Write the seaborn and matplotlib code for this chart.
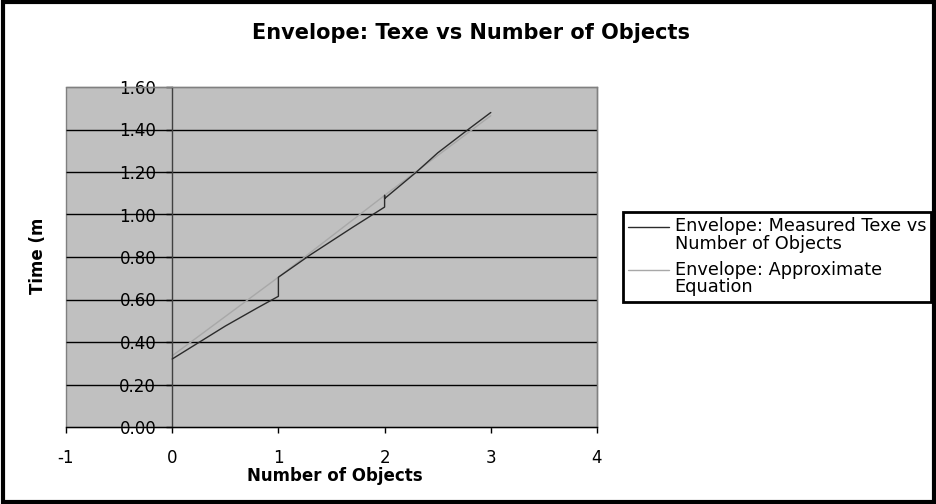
import matplotlib
matplotlib.use("Agg")
import matplotlib.pyplot as plt
import seaborn as sns
import pandas as pd
from matplotlib.patches import Rectangle
from matplotlib.legend_handler import HandlerLine2D

# ---- data ----
measured_x = [0.0, 0.5, 0.8, 1.0, 1.0, 1.3, 1.7, 2.0, 2.0, 2.0, 2.3, 2.5, 2.8, 3.0]
measured_y = [0.32, 0.475, 0.56, 0.615, 0.705, 0.81, 0.94, 1.035, 1.09, 1.075, 1.20, 1.29, 1.405, 1.48]
approx_x = [0.0, 1.0, 2.0, 3.0]
approx_y = [0.335, 0.705, 1.09, 1.465]
x_ticks = [-1, 0, 1, 2, 3, 4]
y_ticks = [0.0, 0.2, 0.4, 0.6, 0.8, 1.0, 1.2, 1.4, 1.6]
measured_label = "Envelope: Measured Texe vs\nNumber of Objects"
approx_label = "Envelope: Approximate\nEquation"
title = "Envelope: Texe vs Number of Objects"
xlabel = "Number of Objects"
ylabel = "Time (m"

sns.set_style("white")
plt.rcParams['font.family'] = ['DejaVu Sans']
plt.rcParams['text.color'] = 'black'
plt.rcParams['xtick.color'] = 'black'
plt.rcParams['ytick.color'] = 'black'


class TopLineHandler(HandlerLine2D):
    """Place the legend line level with the first line of a two-line label."""
    def create_artists(self, legend, orig_handle, xdescent, ydescent, width,
                       height, fontsize, trans):
        arts = super().create_artists(legend, orig_handle, xdescent, ydescent,
                                      width, height, fontsize, trans)
        for a in arts:
            yd = list(a.get_ydata())
            xd = list(a.get_xdata())
            a.set_ydata([v + fontsize * 0.52 for v in yd])
            if len(xd) == 2:
                xd[0] = xd[0] + fontsize * 0.45
                a.set_xdata(xd)
        return arts


fig = plt.figure(figsize=(9.37, 5.04), dpi=100)
ax = fig.add_axes([66/937, 1-427/504, (597-66)/937, (427-87)/504])
ax.set_facecolor("#c0c0c0")

df_m = pd.DataFrame({"x": measured_x, "y": measured_y})
df_a = pd.DataFrame({"x": approx_x, "y": approx_y})
sns.lineplot(data=df_m, x="x", y="y", sort=False, estimator=None, ax=ax,
             color="#2b2b2b", linewidth=1.0, label=measured_label, zorder=3)
sns.lineplot(data=df_a, x="x", y="y", sort=False, estimator=None, ax=ax,
             color="#a8a8a8", linewidth=1.0, label=approx_label, zorder=2)

ax.set_xlim(-1, 4)
ax.set_ylim(0, 1.6)
ax.set_xticks(x_ticks)
ax.set_yticks(y_ticks)
ax.set_xticklabels([str(t) for t in x_ticks])
ax.set_yticklabels([f"{t:.2f}" for t in y_ticks])

# gridlines drawn over the tick labels
ax.yaxis.set_zorder(0.5)
ax.hlines(y_ticks[1:-1], -1, 4, colors="black", linewidth=1.0, zorder=1)

for s in ["top", "right"]:
    ax.spines[s].set_color("#808080")
    ax.spines[s].set_linewidth(1.0)
ax.spines["left"].set_position(("data", 0))
ax.spines["left"].set_color("#404040")
ax.spines["left"].set_linewidth(1.0)
ax.spines["bottom"].set_color("black")
ax.spines["bottom"].set_linewidth(1.0)
ax.add_patch(Rectangle((-1, 0), 5, 1.6, fill=False, edgecolor="#808080",
                       linewidth=1.0, zorder=0.6, clip_on=False))

ax.tick_params(axis="both", direction="out", length=4.5, width=1.0, colors="black",
               labelcolor="black", left=True, bottom=True)
ax.tick_params(axis="y", pad=7, labelsize=12)
ax.tick_params(axis="x", pad=11, labelsize=12)

ax.set_xlabel("")
ax.set_ylabel("")
fig.text(335/937, 1-476/504, xlabel, ha="center", va="center",
         fontsize=12, fontweight="bold", color="black")
fig.text(38/937, 1-256/504, ylabel, ha="center", va="center", rotation=90,
         fontsize=12, fontweight="bold", color="black")
fig.text(471/937, 1-33/504, title, ha="center", va="center",
         fontsize=15, fontweight="bold", color="black")

handles, labels = ax.get_legend_handles_labels()
leg = ax.legend(handles, labels, loc="upper left",
                bbox_to_anchor=(623/937, 1-212/504),
                bbox_transform=fig.transFigure, frameon=True, fancybox=False,
                fontsize=12.8, handlelength=2.3, handletextpad=0.3,
                borderpad=0.3, labelspacing=0.42, borderaxespad=0,
                handler_map={h: TopLineHandler() for h in handles})
for t in leg.get_texts():
    t.set_linespacing(0.98)
    t.set_color("black")
frame = leg.get_frame()
frame.set_edgecolor("black")
frame.set_linewidth(2.0)
frame.set_facecolor("white")
frame.set_alpha(1)

# outer chart border
fig.patches.append(Rectangle((0.003, 0.004), 0.994, 0.992, transform=fig.transFigure,
                             fill=False, edgecolor="black", linewidth=3))

fig.savefig("out.png", dpi=100)
